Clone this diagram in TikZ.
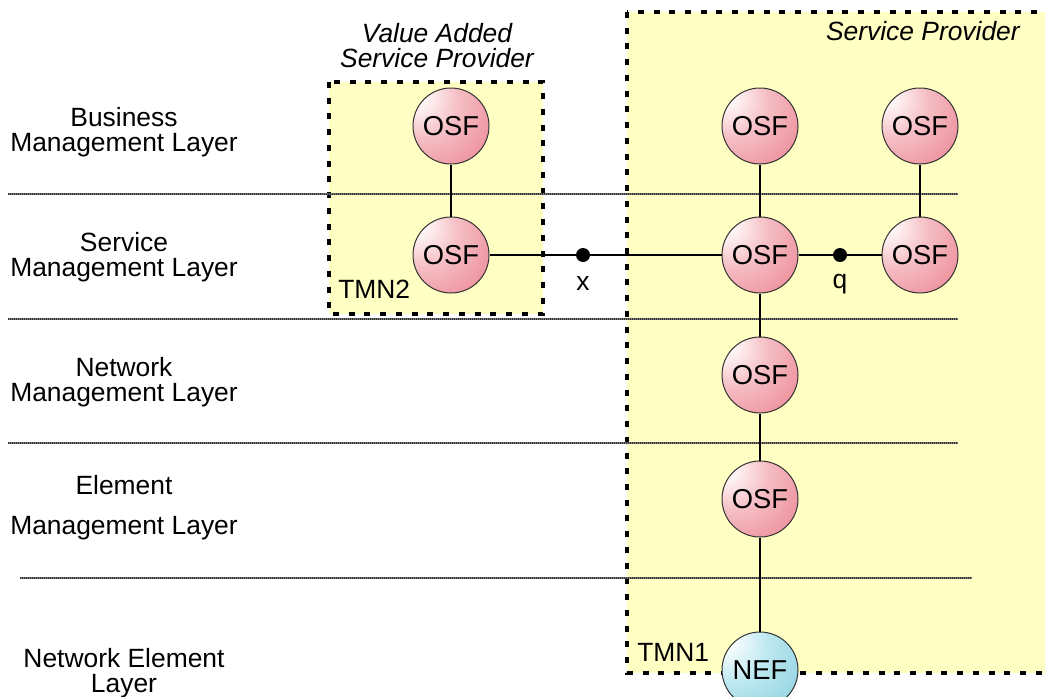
\documentclass[tikz,border=0pt]{standalone}
\usepackage{fontspec}
\setmainfont{Liberation Sans}

% colours of the layers, the domains and the function blocks
\definecolor{domainfill}{RGB}{255,255,196}
\definecolor{layerdark}{RGB}{50,50,50}
\definecolor{layerlight}{RGB}{120,120,120}
\definecolor{osfhi}{RGB}{255,250,250}
\definecolor{osflt}{RGB}{245,190,196}
\definecolor{osfmid}{RGB}{234,122,138}
\definecolor{osflo}{RGB}{222,36,76}
\definecolor{nefhi}{RGB}{250,254,255}
\definecolor{neflt}{RGB}{190,232,240}
\definecolor{nefmid}{RGB}{128,204,220}
\definecolor{neflo}{RGB}{40,156,180}

\pgfdeclareradialshading{osfball}{\pgfpoint{-26bp}{22bp}}%
  {color(0bp)=(osfhi); color(6bp)=(osfhi); color(24bp)=(osflt); color(55bp)=(osfmid); color(88bp)=(osflo)}
\pgfdeclareradialshading{nefball}{\pgfpoint{-26bp}{22bp}}%
  {color(0bp)=(nefhi); color(6bp)=(nefhi); color(24bp)=(neflt); color(55bp)=(nefmid); color(88bp)=(neflo)}

\tikzset{
  txt/.style={font=\fontsize{19.8}{18.75}\selectfont, align=center, inner sep=0pt},
  itxt/.style={txt, font=\fontsize{19.8}{18.75}\selectfont\itshape},
  tmnbox/.style={fill=domainfill, draw=black, line width=2.8pt, dash pattern=on 4.5pt off 7.3pt},
  layerlight/.style={draw=layerlight, line width=2pt},
  layerdark/.style={draw=layerdark, line width=2pt, dash pattern=on 0.75pt off 0.75pt},
  fblock/.style={circle, minimum size=57pt, inner sep=0pt, draw=black!80, line width=0.75pt,
    font=\fontsize{20.5}{20.5}\selectfont},
  osf/.style={fblock, shading=osfball},
  nef/.style={fblock, shading=nefball},
  refpt/.style={circle, fill=black, minimum size=10.5pt, inner sep=0pt},
  link/.style={draw=black, line width=1.5pt},
}

\begin{document}
\begin{tikzpicture}[x=0.75pt, y=-0.75pt]
  \useasboundingbox (0,0) rectangle (1045,696);

  % administrative domains
  \path[tmnbox] (627,12) rectangle (1060,673);
  \path[tmnbox] (329,82) rectangle (543,314);

  % boundaries between the management layers
  \foreach \ya/\xa/\xb in {194/8/958, 319/8/958, 443/8/958, 578/20/972} {
    \draw[layerlight] (\xa,\ya) -- (\xb,\ya);
    \draw[layerdark]  (\xa,\ya) -- (\xb,\ya);
  }

  % layer names
  \node[txt] (bml)  at (124,132) {Business\\Management Layer};
  \node[txt] (sml)  at (124,257) {Service\\Management Layer};
  \node[txt] (nml)  at (124,382) {Network\\Management Layer};
  \node[txt] (eml1) at (124,485) {Element};
  \node[txt] (eml2) at (124,528) {Management Layer};
  \node[txt] (nel)  at (124,673) {Network Element\\Layer};

  % domain names
  \node[itxt] (vasp) at (437,46) {Value Added\\Service Provider};
  \node[itxt, anchor=east] (sp) at (1020,31) {Service Provider};
  \node[txt, anchor=west] (tmn2) at (338,289) {TMN2};
  \node[txt, anchor=west] (tmn1) at (637,652) {TMN1};

  % reference points
  \node[refpt] (x) at (583,255) {};
  \node[refpt] (q) at (840,255) {};
  \node[txt] (xl) at (583,284) {x};
  \node[txt] (ql) at (840,284) {q};

  % function blocks
  \node[osf] (vb) at (451,126) {OSF};
  \node[osf] (vs) at (451,255) {OSF};
  \node[osf] (sb) at (760,126) {OSF};
  \node[osf] (ss) at (760,255) {OSF};
  \node[osf] (rb) at (920,126) {OSF};
  \node[osf] (rs) at (920,255) {OSF};
  \node[osf] (sn) at (760,375) {OSF};
  \node[osf] (se) at (760,499) {OSF};
  \node[nef] (ne) at (760,670) {NEF};

  % connections
  \draw[link] (vb) -- (vs);
  \draw[link] (vs) -- (x) -- (ss);
  \draw[link] (ss) -- (q) -- (rs);
  \draw[link] (rb) -- (rs);
  \draw[link] (sb) -- (ss) -- (sn) -- (se) -- (ne);
\end{tikzpicture}
\end{document}
